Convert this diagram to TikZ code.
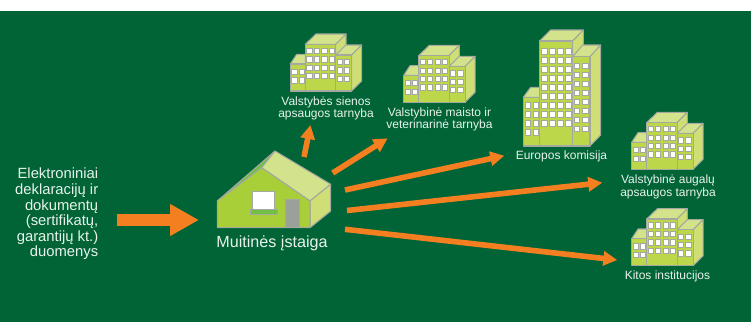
\documentclass[tikz,border=0pt]{standalone}
\usepackage{fontspec}
\setmainfont{Liberation Sans}
\usetikzlibrary{arrows.meta}
\definecolor{bg}{HTML}{006437}
\definecolor{fr}{HTML}{BDD74B}
\definecolor{rf}{HTML}{D3E38C}
\definecolor{sd}{HTML}{CFDF76}
\definecolor{gr}{HTML}{A3A8A0}
\definecolor{hf}{HTML}{A9CF38}
\definecolor{hl}{HTML}{72BF44}
\definecolor{or}{HTML}{F47F20}
\definecolor{tx}{HTML}{EAF3EA}
\tikzset{
 wall/.style={fill=fr,draw=gr,line width=.8pt,line join=round},
 roof/.style={fill=rf,draw=gr,line width=.8pt,line join=round},
 side/.style={fill=sd,draw=gr,line width=.8pt,line join=round},
 win/.style={fill=white,draw=gr,line width=.6pt},
 lab/.style={text=tx,align=center,font=\fontsize{9pt}{9.4pt}\selectfont,inner sep=0pt},
 conn/.style={draw=or,line width=4.2pt,-{Triangle[length=10.5pt,width=10.5pt]},shorten >=0pt},
}
\newcommand{\winat}[2]{\draw[win] (#1-2.6,#2-2.6) rectangle (#1+2.6,#2+2.6);}
\newcommand{\bldg}[2]{%
\begin{scope}[shift={(#1,#2)}]
 \draw[roof] (15,10.3) -- (25.7,0) -- (55.7,0) -- (45.4,10.3) -- cycle;
 \draw[side] (45.4,10.3) -- (55.7,0) -- (55.7,20) -- (45.4,30) -- cycle;
 \draw[wall] (15,10.3) rectangle (45.4,57);
 \draw[roof] (0,30) -- (6.4,20.3) -- (15,20.3) -- (15,30) -- cycle;
 \draw[wall] (0,30) rectangle (15,57);
 \draw[roof] (45.4,21) -- (55.7,11) -- (71.4,11) -- (61.4,21) -- cycle;
 \draw[side] (61.4,21) -- (71.4,11) -- (71.4,47) -- (61.4,57) -- cycle;
 \draw[wall] (45.4,21) rectangle (61.4,57);
 \foreach \wy in {16.7,25.3,33.7,42}{\foreach \wx in {19,26.4,34,41.4}{\winat{\wx}{\wy}}}
 \foreach \wy in {28,36.3,44.7}{\foreach \wx in {49.4,56.7}{\winat{\wx}{\wy}}}
 \foreach \wy in {37.7,46.3}{\foreach \wx in {4,11.4}{\winat{\wx}{\wy}}}
\end{scope}}
\begin{document}
\begin{tikzpicture}[x=.75pt,y=-.75pt]
\useasboundingbox (0,0) rectangle (751,322);
\fill[white] (0,0) rectangle (751,322);
\fill[bg] (0,11) rectangle (751,322);

\bldg{290.3}{34}
\bldg{403.7}{45.3}
\bldg{631.7}{112.3}
\bldg{631.7}{208.7}

\draw[roof] (539.7,41) -- (550.7,30) -- (583.3,30) -- (572.7,41) -- cycle;
\draw[side] (572.7,41) -- (583.3,30) -- (583.3,50) -- (572.7,60) -- cycle;
\draw[wall] (539.7,41) rectangle (572.7,146);
\draw[roof] (523.3,97.3) -- (530.7,87.3) -- (539.7,87.3) -- (539.7,97.3) -- cycle;
\draw[wall] (523.3,97.3) rectangle (539.7,146);
\draw[roof] (572.7,56.7) -- (582.7,45) -- (600.7,45) -- (590,56.7) -- cycle;
\draw[side] (590,56.7) -- (600.7,45) -- (600.7,135) -- (590,146) -- cycle;
\draw[wall] (572.7,56.7) rectangle (590,146);
\foreach \wy in {51.3,60.3,69.3,78.3,87.3,96.3,105.3,114.3,123.3}{\foreach \wx in {544.3,552.3,560.3,568.3}{\winat{\wx}{\wy}}}
\foreach \wy in {65.7,74.7,83.7,92.7,101.7,110.7,119.7,128.7}{\foreach \wx in {577,585.3}{\winat{\wx}{\wy}}}
\foreach \wy in {105.3,114.3,123.3,132.3}{\foreach \wx in {527.7,535.7}{\winat{\wx}{\wy}}}

\fill[hl] (217.3,201) -- (275,151) -- (261.7,167.7) -- cycle;
\draw[gr,line width=.8pt] (217.3,201) -- (275,151);
\draw[roof] (261.7,167.7) -- (275,151) -- (330.7,184.3) -- (310,201) -- cycle;
\draw[side] (310,201) -- (330.7,184.3) -- (330.7,211) -- (310,227.7) -- cycle;
\draw[fill=hf,draw=gr,line width=.8pt,line join=round] (217.3,201) -- (261.7,167.7) -- (310,201) -- (310,227.7) -- (217.3,227.7) -- cycle;
\draw[fill=white,draw=gr,line width=.8pt] (252.7,191.3) rectangle (274.7,210);
\draw[fill=hl,draw=gr,line width=.6pt] (250,209.7) rectangle (277.7,214.3);
\draw[fill=gr!95!black,draw=gr,line width=.6pt] (285,199.3) rectangle (299,227.7);

\node[lab] (l1) at (326,108.3) {Valstybės sienos\\apsaugos tarnyba};
\node[lab] (l2) at (439.5,119.5) {Valstybinė maisto ir\\veterinarinė tarnyba};
\node[lab] (l3) at (561.5,156.7) {Europos komisija};
\node[lab] (l4) at (668,186.8) {Valstybinė augalų\\apsaugos tarnyba};
\node[lab] (l5) at (667.5,276) {Kitos institucijos};
\node[text=tx,inner sep=0pt,font=\fontsize{12.1pt}{14pt}\selectfont] (l0) at (272,243) {Muitinės įstaiga};
\node[text=tx,inner sep=0pt,align=right,anchor=east,font=\fontsize{11.1pt}{11.7pt}\selectfont] (src) at (98.5,214) {Elektroniniai\\deklaracijų ir\\dokumentų\\(sertifikatų,\\garantijų kt.)\\duomenys};

\coordinate (a0) at (117,220);
\coordinate (a1) at (304,157);
\coordinate (b1) at (310.5,125);
\coordinate (a2) at (332.7,173);
\coordinate (b2) at (387.7,138.3);
\coordinate (a3) at (345,190);
\coordinate (b3) at (504.3,155.7);
\coordinate (a4) at (347,210.5);
\coordinate (b4) at (602.3,182.7);
\coordinate (a5) at (345,229.3);
\coordinate (b5) at (617.3,260);
\coordinate (h0) at (199,220);
\draw[or,line width=9pt,-{Triangle[length=21.7pt,width=22.5pt]}] (a0) -- (h0);
\draw[conn] (a1) -- (b1);
\draw[conn] (a2) -- (b2);
\draw[conn] (a3) -- (b3);
\draw[conn] (a4) -- (b4);
\draw[conn] (a5) -- (b5);
\end{tikzpicture}
\end{document}
